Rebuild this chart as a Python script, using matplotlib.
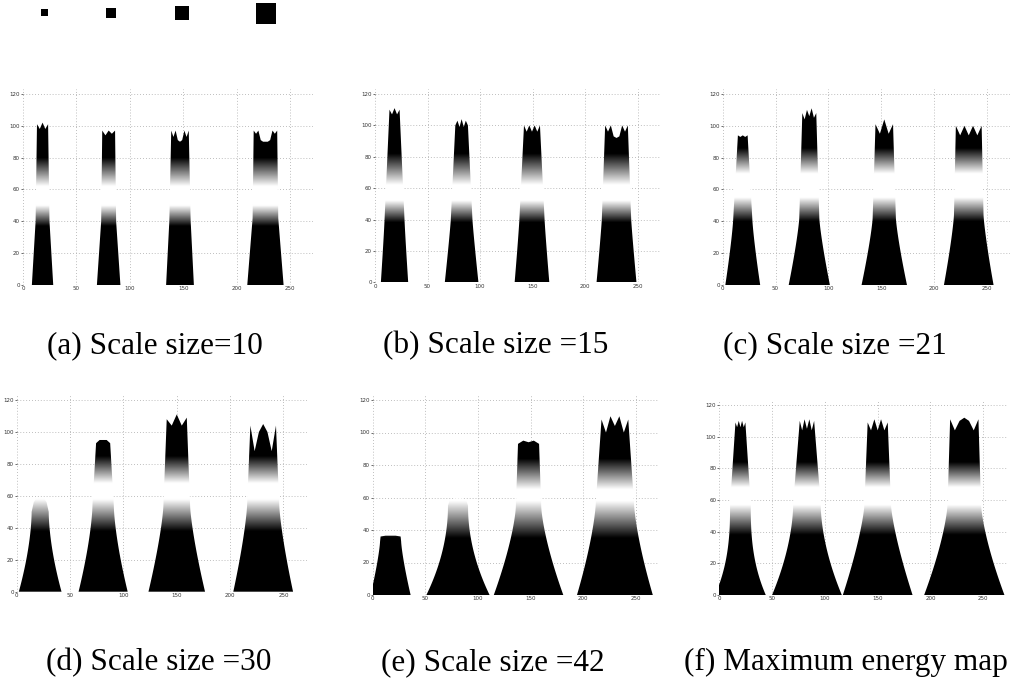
import numpy as np
import matplotlib
matplotlib.use("Agg")
import matplotlib.pyplot as plt
from matplotlib.path import Path
from matplotlib.patches import PathPatch, Rectangle

# ---------------- data ----------------
scale_sizes = [10, 15, 21, 30]
captions = ["(a) Scale size=10", "(b) Scale size =15", "(c) Scale size =21",
            "(d) Scale size =30", "(e) Scale size =42", "(f) Maximum energy map"]
x_ticks = [0, 50, 100, 150, 200, 250]
y_ticks = [0, 20, 40, 60, 80, 100, 120]

# per panel (a..f), per peak (4 squares)
peak_centers = [
    [18.3, 80.2, 147, 227],
    [18.6, 82.5, 149.5, 230],
    [19, 82, 153, 233],
    [22, 81, 150, 231],
    [17, 81, 148, 230],
    [20, 83, 150, 232],
]
base_halfwidth = [
    [10, 11, 13, 17],
    [13, 16, 16.5, 19],
    [16.5, 19.5, 21.5, 23.5],
    [20, 23, 26.5, 28],
    [19, 30, 33, 36],
    [24, 33, 33, 38],
]
shoulder_height = [
    [40, 40, 40, 42],
    [40, 40, 40, 40],
    [42, 42, 42, 44],
    [50, 54, 54, 55],
    [33, 55, 55, 58],
    [57, 58, 57, 58],
]
shoulder_halfwidth = [
    [6.5, 7, 10, 12],
    [9.5, 10.3, 12, 14],
    [9, 9.5, 11, 14],
    [8, 10, 12.5, 15],
    [10, 9.5, 12, 18],
    [9.8, 13, 12.6, 15.8],
]
cap_halfwidth = [
    [5.2, 6, 8.2, 11],
    [4.8, 6, 7.6, 10.8],
    [4.6, 6.6, 8.3, 12.2],
    [6, 6.6, 9.4, 12],
    [9.5, 8, 10, 12.7],
    [4.7, 6.8, 9.5, 13.4],
]
crown_heights = [
    [[101, 98, 102, 98, 101], [97, 94, 97, 95, 97],
     [97, 93, 97, 91, 90, 91, 97, 93, 97], [97, 95, 97, 91, 90, 90, 90, 91, 97, 95, 97]],
    [[110, 107, 111, 107, 110], [100, 103, 99, 104, 99, 103, 100],
     [100, 96, 100, 96, 100, 96, 100], [100, 96, 100, 93, 92, 93, 100, 96, 100]],
    [[94, 93, 94, 93, 94], [108, 104, 110, 106, 111, 105, 108],
     [101, 95, 104, 95, 101], [100, 94, 100, 94, 100, 94, 100]],
    [[56, 59, 59.5, 59, 56], [93, 95, 95, 95, 93],
     [108, 104, 111, 104, 109], [104, 88, 100, 105, 100, 88, 104]],
    [[36, 36.5, 36.5, 36.5, 36], [58, 59.5, 59.5, 59.5, 58],
     [93, 95, 94, 95, 93], [108, 100, 110, 104, 110, 100, 108]],
    [[109, 106, 110, 106, 110, 106, 109], [110, 104, 111, 105, 111, 104, 110],
     [109, 104, 111, 104, 111, 104, 109], [111, 104, 110, 112, 110, 104, 111]],
]

# ---------------- styling / layout ----------------
W, H = 1012, 681
# x-origin px, px per x unit, y-origin px, px per y unit
panel_layout = [
    (23.0, 1.068, 285.0, 1.592),
    (375.0, 1.050, 282.3, 1.569),
    (722.7, 1.056, 285.0, 1.592),
    (16.7, 1.067, 591.7, 1.597),
    (372.7, 1.053, 595.0, 1.625),
    (719.3, 1.056, 595.0, 1.583),
]
side_power = [
    [1.0, 1.0, 1.0, 1.0],
    [1.1, 1.1, 1.1, 1.1],
    [1.25, 1.25, 1.25, 1.25],
    [1.7, 1.5, 1.35, 1.35],
    [1.3, 2.0, 1.45, 1.45],
    [2.6, 1.8, 1.35, 1.45],
]
# shading: black below s0, white from s1 to s2, black above s3
shade_levels = [
    (37, 50, 62, 80),
    (38, 52, 62, 82),
    (40, 55, 70, 86),
    (38, 58, 68, 85),
    (35, 58, 65, 84),
    (38, 57, 68, 84),
]
caption_pos = [(155, 353), (496, 353), (835, 353), (159, 670), (493, 670), (846, 670)]
square_centers = [(44.3, 12.7), (110.7, 12.8), (181.7, 13.0), (266.3, 13.3)]
square_px_per_unit = 0.68
XMAX, YMAX = 272, 123

fig = plt.figure(figsize=(W / 100, H / 100), dpi=100)
fig.patch.set_facecolor("white")

# top row of squares
ax0 = fig.add_axes([0, 1 - 30 / H, 1, 30 / H])
ax0.set_xlim(0, W)
ax0.set_ylim(30, 0)
ax0.axis("off")
for (cx, cy), s in zip(square_centers, scale_sizes):
    sz = s * square_px_per_unit
    ax0.add_patch(Rectangle((cx - sz / 2, cy - sz / 2), sz, sz, color="black", lw=0))


def peak_path(c, hw0, ys, hws, hwc, crown, p):
    t = np.linspace(0, 1, 40)
    y_side = ys * t
    w_side = hws + (hw0 - hws) * (1 - t) ** p
    left = np.column_stack([c - w_side, y_side])
    top = np.column_stack([np.linspace(c - hwc, c + hwc, len(crown)), crown])
    right = np.column_stack([c + w_side[::-1], y_side[::-1]])
    verts = np.vstack([left, top, right, left[:1]])
    return Path(verts, closed=True)


for i in range(6):
    x0, sx, y0, sy = panel_layout[i]
    ax = fig.add_axes([x0 / W, 1 - y0 / H, XMAX * sx / W, YMAX * sy / H])
    ax.set_facecolor("white")

    paths = [peak_path(peak_centers[i][k], base_halfwidth[i][k],
                       shoulder_height[i][k], shoulder_halfwidth[i][k],
                       cap_halfwidth[i][k], crown_heights[i][k], side_power[i][k])
             for k in range(4)]
    compound = Path.make_compound_path(*paths)

    s0, s1, s2, s3 = shade_levels[i]
    yy = np.linspace(0, YMAX, 600)
    g = np.interp(yy, [0, s0, s1, s2, s3, 500], [1, 1, 0, 0, 1, 1])
    img = np.repeat(g[:, None], 2, axis=1)
    im = ax.imshow(img, extent=[0, XMAX, 0, YMAX], origin="lower", aspect="auto",
                   cmap="gray_r", vmin=0, vmax=1, interpolation="bilinear", zorder=2)
    patch = PathPatch(compound, transform=ax.transData, facecolor="none", edgecolor="none")
    im.set_clip_path(patch)

    ax.set_xlim(0, XMAX)
    ax.set_ylim(0, YMAX)
    ax.set_xticks(x_ticks)
    ax.set_yticks(y_ticks)
    ax.set_xticklabels([str(v) for v in x_ticks])
    ax.set_yticklabels([str(v) for v in y_ticks])
    ax.tick_params(axis="both", length=1.2, width=0.5, pad=1, labelsize=4,
                   colors="#333333")
    ax.tick_params(axis="x", length=0)
    for sp in ax.spines.values():
        sp.set_visible(False)
    ax.set_axisbelow(True)
    ax.grid(True, linestyle=(0, (1, 2.5)), color="#a8a8a8", linewidth=0.6)

    cx, cy = caption_pos[i]
    fig.text(cx / W, 1 - cy / H, captions[i], ha="center", va="baseline",
             fontsize=22.5, family="Liberation Serif", color="black")

fig.savefig("out.png", dpi=100, facecolor="white")
